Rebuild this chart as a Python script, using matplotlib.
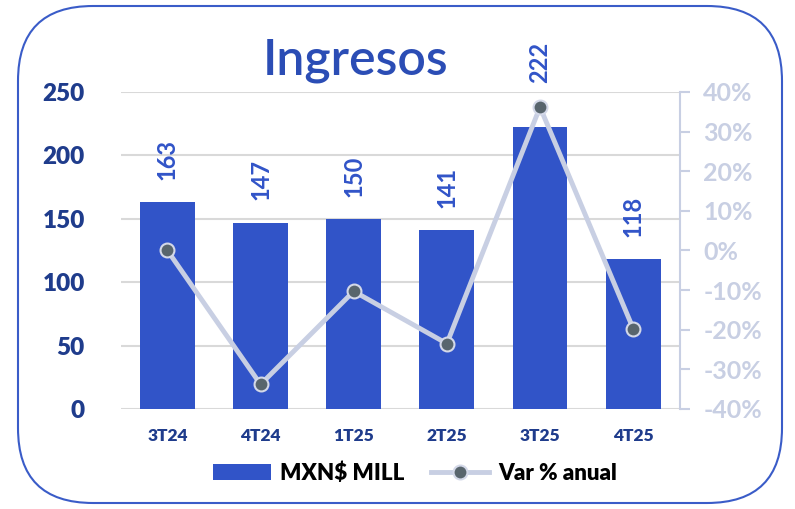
import matplotlib
matplotlib.use("Agg")
import matplotlib.pyplot as plt
from matplotlib.patches import FancyBboxPatch
from matplotlib.ticker import FuncFormatter

quarters = ["3T24", "4T24", "1T25", "2T25", "3T25", "4T25"]
ingresos = [163, 147, 150, 141, 222, 118]
var_anual = [0.0, -33.8, -10.3, -23.5, 36.2, -19.7]
label_pad = [16, 16, 16, 16, 32, 16]

bar_color = "#3154C8"
navy = "#1F3C8C"
light = "#C8CFE3"

plt.rcParams["font.family"] = ["Lato", "DejaVu Sans"]

fig = plt.figure(figsize=(7.95, 5.09), dpi=100)
ax = fig.add_axes([0.152, 0.1965, 0.703, 0.6228])

x = range(len(quarters))
bars = ax.bar(x, ingresos, width=0.59, color=bar_color, zorder=2, label="MXN$ MILL")
ax.set_xlim(-0.5, len(quarters) - 0.5)
ax.set_ylim(0, 250)
ax.set_yticks(range(0, 251, 50))
ax.grid(axis="y", color="#D9D9D9", linewidth=1.5, zorder=0)
for s in ax.spines.values():
    s.set_visible(False)
ax.tick_params(axis="y", length=0, pad=26, labelsize=17.5, labelcolor=navy)
ax.tick_params(axis="x", length=0, pad=14, labelsize=12.5, labelcolor=navy)
ax.set_xticks(list(x))
ax.set_xticklabels(quarters, fontweight="heavy")
for t in ax.get_yticklabels():
    t.set_fontweight("heavy")

for xi, v, p in zip(x, ingresos, label_pad):
    ax.annotate(str(v), (xi, v), xytext=(0, p), textcoords="offset points",
                rotation=90, ha="center", va="bottom", fontsize=17,
                fontweight="bold", color=bar_color)

ax2 = ax.twinx()
ax2.plot(list(x), var_anual, color=light, linewidth=3.5, marker="o",
         markersize=10, markerfacecolor="#58656D", markeredgecolor="#D3D8E8",
         markeredgewidth=1.5, zorder=3, label="Var % anual")
ax2.set_ylim(-40, 40)
ax2.set_yticks(range(-40, 41, 10))
ax2.yaxis.set_major_formatter(FuncFormatter(lambda v, _: f"{v:.0f}%"))
for s in ["left", "top", "bottom"]:
    ax2.spines[s].set_visible(False)
ax2.spines["right"].set_color(light)
ax2.spines["right"].set_linewidth(1.5)
ax2.tick_params(axis="y", colors=light, length=7, width=1.5, labelsize=18,
                labelcolor=light, pad=10)
for t in ax2.get_yticklabels():
    t.set_fontweight("bold")

fig.text(0.447, 0.882, "Ingresos", ha="center", va="center", fontsize=36,
         fontweight="semibold", color="#2B4DB5")

h1, l1 = ax.get_legend_handles_labels()
h2, l2 = ax2.get_legend_handles_labels()
fig.legend(h1 + h2, l1 + l2, loc="center", bbox_to_anchor=(0.522, 0.071),
           ncol=2, frameon=False, prop={"size": 16, "weight": "heavy"},
           handlelength=2.6, handletextpad=0.4, columnspacing=1.2)

border = FancyBboxPatch((0.18, 0.06), 7.64, 4.97,
                        boxstyle="round,pad=0,rounding_size=0.75",
                        transform=fig.dpi_scale_trans, fill=False,
                        edgecolor="#3A5CC8", linewidth=1.5)
fig.patches.append(border)

fig.savefig("out.png", dpi=100)
